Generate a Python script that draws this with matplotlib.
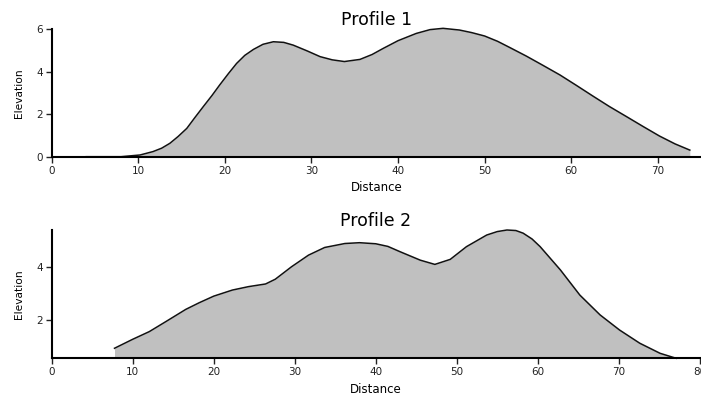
import numpy as np
import matplotlib
matplotlib.use("Agg")
import matplotlib.pyplot as plt

# profile 1
dist1 = [4, 8, 10.2, 11.7, 12.7, 13.65, 14.6, 15.6, 16.5, 17.5, 18.5, 19.4, 20.4, 21.35,
         22.3, 23.3, 24.4, 25.6, 26.8, 27.9, 29.5, 31, 32.4, 33.8, 35.6, 37, 38.3, 40,
         42.1, 43.7, 45.2, 47.1, 48.5, 50, 51.5, 52.9, 54.8, 56.7, 58.7, 60.6, 62.5,
         64.4, 66.4, 68.3, 70.2, 72, 73.7]
elev1 = [0.0, 0.0, 0.08, 0.24, 0.4, 0.63, 0.95, 1.33, 1.82, 2.35, 2.87, 3.37, 3.9, 4.38,
         4.76, 5.04, 5.28, 5.4, 5.37, 5.24, 4.97, 4.7, 4.55, 4.47, 4.57, 4.8, 5.09, 5.45,
         5.79, 5.97, 6.03, 5.95, 5.83, 5.67, 5.42, 5.13, 4.73, 4.3, 3.84, 3.35, 2.85,
         2.36, 1.88, 1.42, 0.97, 0.6, 0.31]

# profile 2
dist2 = [7.75, 10, 12.05, 14.1, 16.55, 18.2, 20, 22.3, 24.3, 26.4, 27.6, 29.6, 31.7,
         33.7, 36.2, 38, 40, 41.5, 43, 45.5, 47.3, 49.2, 51.2, 53.7, 55, 56.2, 57.3,
         58.2, 59.3, 60.3, 62.8, 65.2, 67.7, 70.1, 72.6, 75.1, 77.1]
elev2 = [0.93, 1.27, 1.56, 1.94, 2.4, 2.65, 2.9, 3.13, 3.26, 3.36, 3.54, 4.01, 4.45,
         4.74, 4.89, 4.92, 4.88, 4.78, 4.58, 4.26, 4.1, 4.29, 4.77, 5.21, 5.34, 5.4,
         5.38, 5.28, 5.06, 4.77, 3.89, 2.94, 2.19, 1.62, 1.12, 0.74, 0.55]

plt.rcParams['font.family'] = ['DejaVu Sans']

fig = plt.figure(figsize=(7.01, 3.98), dpi=100)
ax1 = fig.add_axes([0.0738, 0.6063, 0.9263, 0.3209])
ax2 = fig.add_axes([0.0738, 0.0997, 0.9244, 0.3224])


def style(ax, title):
    for s in ['top', 'right']:
        ax.spines[s].set_visible(False)
    for s in ['left', 'bottom']:
        ax.spines[s].set_linewidth(1.5)
    ax.tick_params(length=4.5, width=1, labelsize=7.5, pad=2, colors='#222222')
    ax.set_title(title, fontsize=12.5, pad=1.5)
    ax.set_xlabel('Distance', fontsize=8.5, labelpad=4)
    ax.set_ylabel('Elevation', fontsize=7.7, labelpad=9)


ax1.fill_between(dist1, elev1, 0, color='#c0c0c0', lw=0)
ax1.plot(dist1, elev1, color='#111111', lw=1.1, clip_on=False)
ax1.set_xlim(0, 75)
ax1.set_ylim(0, 6)
ax1.set_xticks(range(0, 71, 10))
ax1.set_yticks([0, 2, 4, 6])
style(ax1, 'Profile 1')

ax2.fill_between(dist2, elev2, 0.55, color='#c0c0c0', lw=0)
ax2.plot(dist2, elev2, color='#111111', lw=1.1, clip_on=False)
ax2.set_xlim(0, 80)
ax2.set_ylim(0.55, 5.4)
ax2.set_xticks(range(0, 81, 10))
ax2.set_yticks([2, 4])
style(ax2, 'Profile 2')

fig.savefig('out.png', dpi=100)
